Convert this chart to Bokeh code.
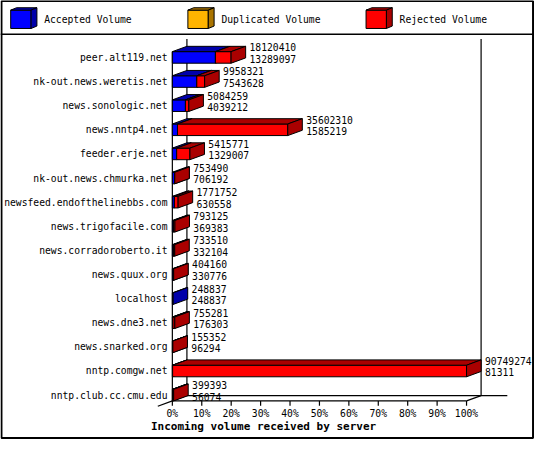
from bokeh.plotting import figure
from bokeh.models import Range1d
from bokeh.core.properties import value
from bokeh.embed import file_html
from bokeh.resources import INLINE

# ---------------- data ----------------
servers = [
    "peer.alt119.net", "nk-out.news.weretis.net", "news.sonologic.net",
    "news.nntp4.net", "feeder.erje.net", "nk-out.news.chmurka.net",
    "newsfeed.endofthelinebbs.com", "news.trigofacile.com",
    "news.corradoroberto.it", "news.quux.org", "localhost", "news.dne3.net",
    "news.snarked.org", "nntp.comgw.net", "nntp.club.cc.cmu.edu",
]
total_volume = [18120410, 9958321, 5084259, 35602310, 5415771, 753490,
                1771752, 793125, 733510, 404160, 248837, 755281, 155352,
                90749274, 399393]
accepted_volume = [13289097, 7543628, 4039212, 1585219, 1329007, 706192,
                   630558, 369383, 332104, 330776, 248837, 176303, 96294,
                   81311, 56074]
duplicated_volume = [0, 0, 0, 0, 0, 0, 0, 0, 0, 0, 0, 0, 0, 0, 0]
series_names = ["Accepted Volume", "Duplicated Volume", "Rejected Volume"]
front_colors = ["#0000FF", "#FFB400", "#FF0000"]
dark_colors = ["#0000AA", "#AA7400", "#AA0000"]
tick_values = [0, 10, 20, 30, 40, 50, 60, 70, 80, 90, 100]
tick_labels = ["0%", "10%", "20%", "30%", "40%", "50%", "60%", "70%", "80%", "90%", "100%"]
x_title = "Incoming volume received by server"

# ---------------- geometry (reference pixel space) ----------------
X_ZERO, PX_PER_PCT = 177.0, 3.03
Y_FIRST, ROW = 59.0, 25.0
DEPTH_X, DEPTH_Y = 15.0, 5.5
HALF_H = 6.0
FONT = value("DejaVu Sans Mono")
FS = "9.7px"


def hx(pix):
    return pix / PX_PER_PCT


def vy(pix):
    return pix / ROW


def ax(xref):
    return (xref - X_ZERO) / PX_PER_PCT


def ay(yref):
    return (yref - Y_FIRST) / ROW


p = figure(width=534, height=439,
           x_range=Range1d(ax(0), ax(550)), y_range=Range1d(ay(455), ay(0)),
           output_backend="svg", toolbar_location=None,
           x_axis_location=None, y_axis_location=None,
           min_border=0, min_border_left=0, min_border_right=0,
           min_border_top=0, min_border_bottom=0,
           outline_line_color=None, background_fill_color="white",
           border_fill_color="white")
p.grid.visible = False

# ---------------- outer border & legend band ----------------
p.patch([ax(1), ax(548.5), ax(548.5), ax(1)], [ay(0.5), ay(0.5), ay(453.5), ay(453.5)],
        fill_color=None, line_color="black", line_width=2)
p.segment(x0=[ax(0)], y0=[ay(35)], x1=[ax(550)], y1=[ay(35)], line_color="black", line_width=1.5)

legend_x = [10.5, 193, 376.5]
for k, name in enumerate(series_names):
    bx = legend_x[k]
    x0, x1, y0, y1 = ax(bx), ax(bx + 21), ay(10), ay(29)
    ddx, ddy = hx(6), vy(2.5)
    p.patch([x0, x1, x1, x0], [y0, y0, y1, y1], fill_color=front_colors[k], line_color="black", line_width=1)
    p.patch([x0, x1, x1 + ddx, x0 + ddx], [y0, y0, y0 - ddy, y0 - ddy], fill_color=dark_colors[k], line_color="black", line_width=1)
    p.patch([x1, x1 + ddx, x1 + ddx, x1], [y0, y0 - ddy, y1 - ddy, y1], fill_color=dark_colors[k], line_color="black", line_width=1)
    p.text(x=[ax(bx + 34.5)], y=[ay(20)], text=[name], text_font=FONT, text_font_size=FS,
           text_align="left", text_baseline="middle", text_color="black")

# ---------------- walls / floor ----------------
n = len(servers)
depx, depy = hx(DEPTH_X), vy(DEPTH_Y)
floor_front = (n - 1) + vy(HALF_H)
floor_back = floor_front - depy
top_wall = ay(40)
wall = dict(line_color="black", line_width=1.2)
p.segment(x0=[depx, 100 + depx], y0=[top_wall, top_wall], x1=[depx, 100 + depx], y1=[floor_back, floor_back], **wall)
p.segment(x0=[depx], y0=[floor_back], x1=[ax(522)], y1=[floor_back], **wall)
p.segment(x0=[0], y0=[floor_front], x1=[100], y1=[floor_front], **wall)
p.segment(x0=[0], y0=[-vy(HALF_H)], x1=[0], y1=[floor_front], **wall)
p.segment(x0=[-depx, 100], y0=[floor_front + depy, floor_front], x1=[0, 100 + depx], y1=[floor_front, floor_back], **wall)
p.segment(x0=tick_values, y0=[floor_front] * len(tick_values), x1=tick_values,
          y1=[floor_front + vy(5)] * len(tick_values), **wall)
p.text(x=tick_values, y=[floor_front + vy(13)] * len(tick_values), text=tick_labels,
       text_font=FONT, text_font_size=FS, text_align="center", text_baseline="middle")
p.text(x=[ax(155)], y=[ay(442)], text=[x_title], text_font=FONT, text_font_size="11px",
       text_font_style="bold", text_align="left", text_baseline="middle")

# ---------------- 3D bars ----------------
max_total = max(total_volume)
xs, ys, fills = [], [], []
for i in range(n):
    rejected = total_volume[i] - accepted_volume[i] - duplicated_volume[i]
    parts = [accepted_volume[i], duplicated_volume[i], rejected]
    start = 0.0
    yt, yb = i - vy(HALF_H), i + vy(HALF_H)
    for k, v in enumerate(parts):
        if v <= 0:
            continue
        end = start + v / max_total * 100.0
        xs.append([start, end, end, start]); ys.append([yt, yt, yb, yb]); fills.append(front_colors[k])
        xs.append([start, end, end + depx, start + depx]); ys.append([yt, yt, yt - depy, yt - depy]); fills.append(dark_colors[k])
        xs.append([end, end + depx, end + depx, end]); ys.append([yt, yt - depy, yb - depy, yb]); fills.append(dark_colors[k])
        start = end
p.patches(xs, ys, fill_color=fills, line_color="black", line_width=1, line_join="miter")

# ---------------- labels ----------------
p.text(x=[ax(172)] * n, y=list(range(n)), text=servers, text_font=FONT, text_font_size=FS,
       text_align="right", text_baseline="middle")
ends = [t / max_total * 100.0 + hx(19) for t in total_volume]
p.text(x=ends, y=[i - vy(10.5) for i in range(n)], text=[str(t) for t in total_volume],
       text_font=FONT, text_font_size=FS, text_align="left", text_baseline="middle")
p.text(x=ends, y=[i + vy(1.5) for i in range(n)], text=[str(a) for a in accepted_volume],
       text_font=FONT, text_font_size=FS, text_align="left", text_baseline="middle")

open("out.html", "w").write(file_html(p, INLINE))
